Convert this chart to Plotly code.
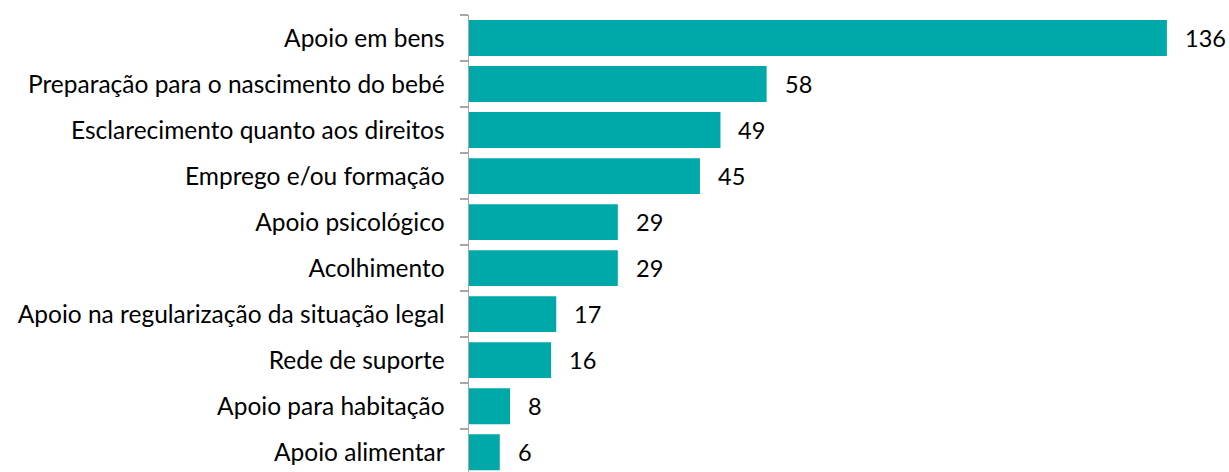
import plotly.graph_objects as go

categories = ["Apoio alimentar", "Apoio para habitação", "Rede de suporte",
              "Apoio na regularização da situação legal", "Acolhimento",
              "Apoio psicológico", "Emprego e/ou formação",
              "Esclarecimento quanto aos direitos",
              "Preparação para o nascimento do bebé", "Apoio em bens"]
values = [6, 8, 16, 17, 29, 29, 45, 49, 58, 136]

color = "#00A9A9"
font = "Lato"

fig = go.Figure(go.Bar(
    x=values, y=categories, orientation="h",
    marker=dict(color=color, line=dict(width=0)),
    hoverinfo="skip",
))

for c, v in zip(categories, values):
    fig.add_annotation(x=v, y=c, text=str(v), showarrow=False,
                       xanchor="left", xshift=16,
                       font=dict(family=font, size=23.5, color="#000000"))

fig.update_layout(
    width=1229, height=472,
    margin=dict(l=469, r=0, t=15, b=0),
    plot_bgcolor="white", paper_bgcolor="white",
    bargap=0.22,
    showlegend=False,
    xaxis=dict(range=[0, 148.1], visible=False),
    yaxis=dict(
        type="category", range=[-0.43, 9.5],
        showline=True, linecolor="#A6A6A6", linewidth=1.5,
        ticks="outside", ticklen=8, tickcolor="#A6A6A6", tickwidth=1.5,
        tickson="boundaries", showgrid=False,
        ticklabelstandoff=18,
        tickfont=dict(family=font, size=24.5, color="#000000"),
    ),
)

fig.write_html("out.html",
               config={"displayModeBar": False, "staticPlot": True},
               post_script="document.body.style.margin='0';document.body.style.overflow='hidden';")
